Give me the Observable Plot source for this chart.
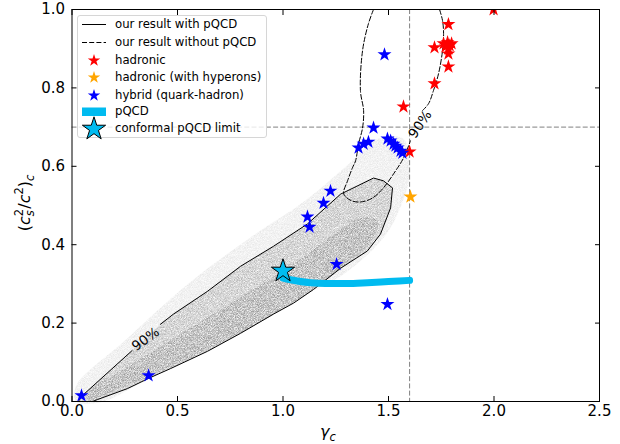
<!DOCTYPE html>
<html><head><meta charset="utf-8">
<script src="https://cdn.jsdelivr.net/npm/d3@7"></script>
<script src="https://cdn.jsdelivr.net/npm/@observablehq/plot@0.6"></script>
<style>
body{margin:0;background:#fff;font-family:"DejaVu Sans",sans-serif;}
#wrap{position:relative;width:620px;height:444px;}
#legend{position:absolute;left:77px;top:15px;width:190px;height:123px;border:1px solid #d6d6d6;border-radius:3px;background:rgba(255,255,255,0.8);box-sizing:border-box;font-size:11.7px;color:#000;}
.row{position:absolute;left:0;height:17px;display:flex;align-items:center;white-space:nowrap;}
.row svg{display:block;}
.row span{position:absolute;left:37px;}
</style></head>
<body><div id="wrap"></div>
<script>
// ---- data ----
const xTicks = [0, 0.5, 1.0, 1.5, 2.0, 2.5];
const yTicks = [0, 0.2, 0.4, 0.6, 0.8, 1.0];
const gammaCut = [1.6];
const cs2Cut = [0.7];

// 90% contour "our result with pQCD" (starts right after the label gap)
const contourWithPQCD = [
  [0.419,0.197],[0.481,0.223],[0.642,0.281],[0.799,0.345],[0.955,0.396],[1.116,0.453],
  [1.273,0.529],[1.429,0.570],[1.476,0.563],[1.519,0.545],[1.510,0.494],[1.462,0.427],
  [1.400,0.384],[1.273,0.340],[1.145,0.286],[1.050,0.251],[0.955,0.223],[0.799,0.174],
  [0.642,0.128],[0.467,0.084],[0.363,0.059],[0.263,0.033],[0.121,0.005],[0.097,0.0],
  [0.030,0.0],[0.045,0.013],[0.285,0.130]
];
// 90% contour "our result without pQCD", two pieces around the label
const contourNoPQCD_a = [
  [1.429,1.0],[1.405,0.964],[1.377,0.895],[1.367,0.793],[1.382,0.742],[1.377,0.698],
  [1.358,0.657],[1.344,0.614],[1.329,0.596],[1.306,0.563],[1.287,0.532],[1.300,0.521],
  [1.325,0.512],[1.367,0.509],[1.424,0.519],[1.476,0.545],[1.533,0.588],[1.571,0.621],
  [1.604,0.665]
];
const contourNoPQCD_b = [
  [1.661,0.742],[1.690,0.760],[1.713,0.793],[1.737,0.836],[1.756,0.895],[1.761,0.939],
  [1.756,0.972],[1.742,1.0]
];
// sample cloud (grey scatter), drawn as density envelopes
const cloudHalo = [
  [0.02,0.0],[0.02,0.04],[0.25,0.155],[0.55,0.30],[0.85,0.42],[1.1,0.51],[1.3,0.60],
  [1.45,0.67],[1.57,0.67],[1.60,0.58],[1.56,0.50],[1.48,0.42],[1.3,0.33],[1.1,0.27],
  [0.85,0.19],[0.55,0.11],[0.3,0.04],[0.15,0.0]
];
const cloudCore = [
  [0.06,0.015],[0.3,0.10],[0.6,0.20],[0.9,0.30],[1.1,0.37],[1.25,0.43],[1.38,0.47],
  [1.45,0.46],[1.42,0.41],[1.3,0.35],[1.1,0.27],[0.85,0.19],[0.6,0.12],[0.35,0.06],
  [0.15,0.015],[0.09,0.0]
];
// pQCD band
const pqcdX = [1.0, 1.06, 1.13, 1.2, 1.3, 1.4, 1.5, 1.6];
const pqcdY = [0.315, 0.308, 0.303, 0.301, 0.301, 0.303, 0.306, 0.309];
// conformal limit
const conformalX = [1.0];
const conformalY = [0.333];
// models
const hadronicX = [1.998,1.784,1.718,1.761,1.780,1.799,1.784,1.770,1.790,1.784,1.784,1.718,1.571,1.600];
const hadronicY = [1.0,0.962,0.903,0.913,0.916,0.913,0.900,0.905,0.908,0.887,0.854,0.811,0.752,0.637];
const hyperonX = [1.604];
const hyperonY = [0.522];
const hybridX = [1.481,1.429,1.405,1.382,1.358,1.495,1.510,1.524,1.543,1.557,1.566,1.533,1.225,1.192,1.116,1.126,1.254,0.045,0.363,1.495];
const hybridY = [0.885,0.698,0.662,0.657,0.647,0.670,0.665,0.657,0.647,0.639,0.634,0.652,0.537,0.506,0.471,0.445,0.350,0.015,0.066,0.248];
// contour labels
const contourLabels = [
  {x:0.349, y:0.159, text:"90%", rotate:-36},
  {x:1.650, y:0.707, text:"90%", rotate:-56}
];

const pts = (X, Y) => X.map((x, i) => ({x, y: Y[i]}));
const fmt = d3.format(".1f");
const font = "DejaVu Sans";
const starR = 4.4;
const bigStarR = 7.3;
const dash = "5,2.2";
const cyan = "#00bbf0";

const plot = Plot.plot({
  width: 620, height: 444,
  marginLeft: 71.5, marginRight: 21, marginTop: 9, marginBottom: 43,
  x: {domain: [0, 2.5]},
  y: {domain: [0, 1]},
  style: {fontFamily: font, fontSize: "15px", color: "black", background: "white", overflow: "visible"},
  marks: [
    Plot.line(cloudHalo, {x: d => d[0], y: d => d[1], fill: "#707070", fillOpacity: 0.17, stroke: "none", curve: "catmull-rom-closed"}),
    Plot.line(contourWithPQCD, {x: d => d[0], y: d => d[1], fill: "#707070", fillOpacity: 0.42, stroke: "none"}),
    Plot.line(cloudCore, {x: d => d[0], y: d => d[1], fill: "#707070", fillOpacity: 0.45, stroke: "none", curve: "catmull-rom-closed"}),
    Plot.ruleX(gammaCut, {stroke: "#808080", strokeWidth: 1, strokeDasharray: dash}),
    Plot.ruleY(cs2Cut, {stroke: "#808080", strokeWidth: 1, strokeDasharray: dash}),
    Plot.line(contourWithPQCD, {x: d => d[0], y: d => d[1], stroke: "black", strokeWidth: 1}),
    Plot.line(contourNoPQCD_a, {x: d => d[0], y: d => d[1], stroke: "black", strokeWidth: 1, strokeDasharray: dash, curve: "catmull-rom"}),
    Plot.line(contourNoPQCD_b, {x: d => d[0], y: d => d[1], stroke: "black", strokeWidth: 1, strokeDasharray: dash, curve: "catmull-rom"}),
    Plot.text(contourLabels, {x: "x", y: "y", text: "text", rotate: "rotate", fontSize: 13.5, fill: "black"}),
    Plot.line(pts(pqcdX, pqcdY), {x: "x", y: "y", stroke: cyan, strokeWidth: 7, curve: "monotone-x"}),
    Plot.dot(pts(hadronicX, hadronicY), {x: "x", y: "y", symbol: "star", r: starR, fill: "red", stroke: "none", clip: true}),
    Plot.dot(pts(hyperonX, hyperonY), {x: "x", y: "y", symbol: "star", r: starR, fill: "orange", stroke: "none"}),
    Plot.dot(pts(hybridX, hybridY), {x: "x", y: "y", symbol: "star", r: starR, fill: "blue", stroke: "none"}),
    Plot.dot(pts(conformalX, conformalY), {x: "x", y: "y", symbol: "star", r: bigStarR, fill: cyan, stroke: "black", strokeWidth: 1}),
    Plot.frame({stroke: "black", strokeWidth: 1}),
    Plot.axisX(xTicks, {anchor: "bottom", tickSize: -5, tickPadding: 9, tickFormat: fmt, label: null, fontSize: 15}),
    Plot.axisX(xTicks, {anchor: "top", tickSize: -5, tickFormat: () => "", label: null}),
    Plot.axisY(yTicks, {anchor: "left", tickSize: -5, tickPadding: 12, tickFormat: fmt, label: null, fontSize: 15}),
    Plot.axisY(yTicks, {anchor: "right", tickSize: -5, tickFormat: () => "", label: null})
  ]
});

const svg = d3.select(plot);

// soft grainy texture for the sample cloud (emulates the scattered points)
const defs = svg.insert("defs", ":first-child");
const f = defs.append("filter").attr("id", "grain").attr("x", "-5%").attr("y", "-5%").attr("width", "110%").attr("height", "110%");
f.append("feTurbulence").attr("type", "fractalNoise").attr("baseFrequency", 1.3).attr("numOctaves", 1).attr("seed", 7).attr("result", "n");
f.append("feColorMatrix").attr("in", "n").attr("type", "matrix")
  .attr("values", "0 0 0 0 0  0 0 0 0 0  0 0 0 0 0  1.8 0 0 0 -0.35").attr("result", "m");
f.append("feComposite").attr("in", "SourceGraphic").attr("in2", "m").attr("operator", "in");
const lineGroups = svg.selectAll('g[aria-label="line"]').nodes();
const cloudGroup = svg.insert("g", () => lineGroups[0]).attr("filter", "url(#grain)");
lineGroups.slice(0, 3).forEach(n => cloudGroup.node().appendChild(n));

// axis titles with math-like sub/superscripts
const xl = svg.append("text").attr("x", 328).attr("y", 437).attr("text-anchor", "middle")
  .attr("font-family", font).attr("font-size", 16).attr("fill", "black");
xl.append("tspan").attr("font-style", "italic").text("γ");
xl.append("tspan").attr("font-style", "italic").attr("font-size", 11.5).attr("dy", 3.5).text("c");

const yl = svg.append("text").attr("transform", "translate(30,203) rotate(-90)").attr("text-anchor", "middle")
  .attr("font-family", font).attr("font-size", 16).attr("fill", "black");
yl.append("tspan").text("(");
yl.append("tspan").attr("font-style", "italic").text("c");
yl.append("tspan").attr("font-size", 11.5).attr("dy", -7).text("2");
yl.append("tspan").attr("font-size", 11.5).attr("font-style", "italic").attr("dx", -7.3).attr("dy", 11).text("s");
yl.append("tspan").attr("dy", -4).attr("dx", 1.5).text("/");
yl.append("tspan").attr("font-style", "italic").text("c");
yl.append("tspan").attr("font-size", 11.5).attr("dy", -7).text("2");
yl.append("tspan").attr("dy", 7).text(")");
yl.append("tspan").attr("font-size", 11.5).attr("font-style", "italic").attr("dy", 4).text("c");

const wrap = document.getElementById("wrap");
wrap.appendChild(plot);

// legend
const legendItems = [
  {label: "our result with pQCD", kind: "line", dash: null},
  {label: "our result without pQCD", kind: "line", dash: dash},
  {label: "hadronic", kind: "star", color: "red"},
  {label: "hadronic (with hyperons)", kind: "star", color: "orange"},
  {label: "hybrid (quark-hadron)", kind: "star", color: "blue"},
  {label: "pQCD", kind: "rect", color: cyan},
  {label: "conformal pQCD limit", kind: "bigstar", color: cyan}
];
const legendRowCenters = [9, 27, 45, 62, 80, 96, 113];
const legend = document.createElement("div");
legend.id = "legend";
legendItems.forEach((it, i) => {
  const row = document.createElement("div");
  row.className = "row";
  row.style.top = (legendRowCenters[i] - 8.5 - 1) + "px";
  const s = d3.create("svg").attr("width", 34).attr("height", 17).style("overflow", "visible");
  if (it.kind === "line") {
    s.append("line").attr("x1", 4).attr("x2", 28).attr("y1", 8.5).attr("y2", 8.5)
      .attr("stroke", "black").attr("stroke-width", 1).attr("stroke-dasharray", it.dash);
  } else if (it.kind === "star") {
    s.append("path").attr("transform", "translate(16,8.5)")
      .attr("d", d3.symbol(d3.symbolStar, Math.PI * 3.9 * 3.9)()).attr("fill", it.color);
  } else if (it.kind === "rect") {
    s.append("rect").attr("x", 4).attr("y", 4.5).attr("width", 24).attr("height", 8.5).attr("fill", it.color);
  } else {
    s.append("path").attr("transform", "translate(16,9)")
      .attr("d", d3.symbol(d3.symbolStar, Math.PI * bigStarR * bigStarR)()).attr("fill", it.color)
      .attr("stroke", "black").attr("stroke-width", 1);
  }
  row.appendChild(s.node());
  const t = document.createElement("span");
  t.textContent = it.label;
  row.appendChild(t);
  legend.appendChild(row);
});
wrap.appendChild(legend);
</script>
</body></html>
